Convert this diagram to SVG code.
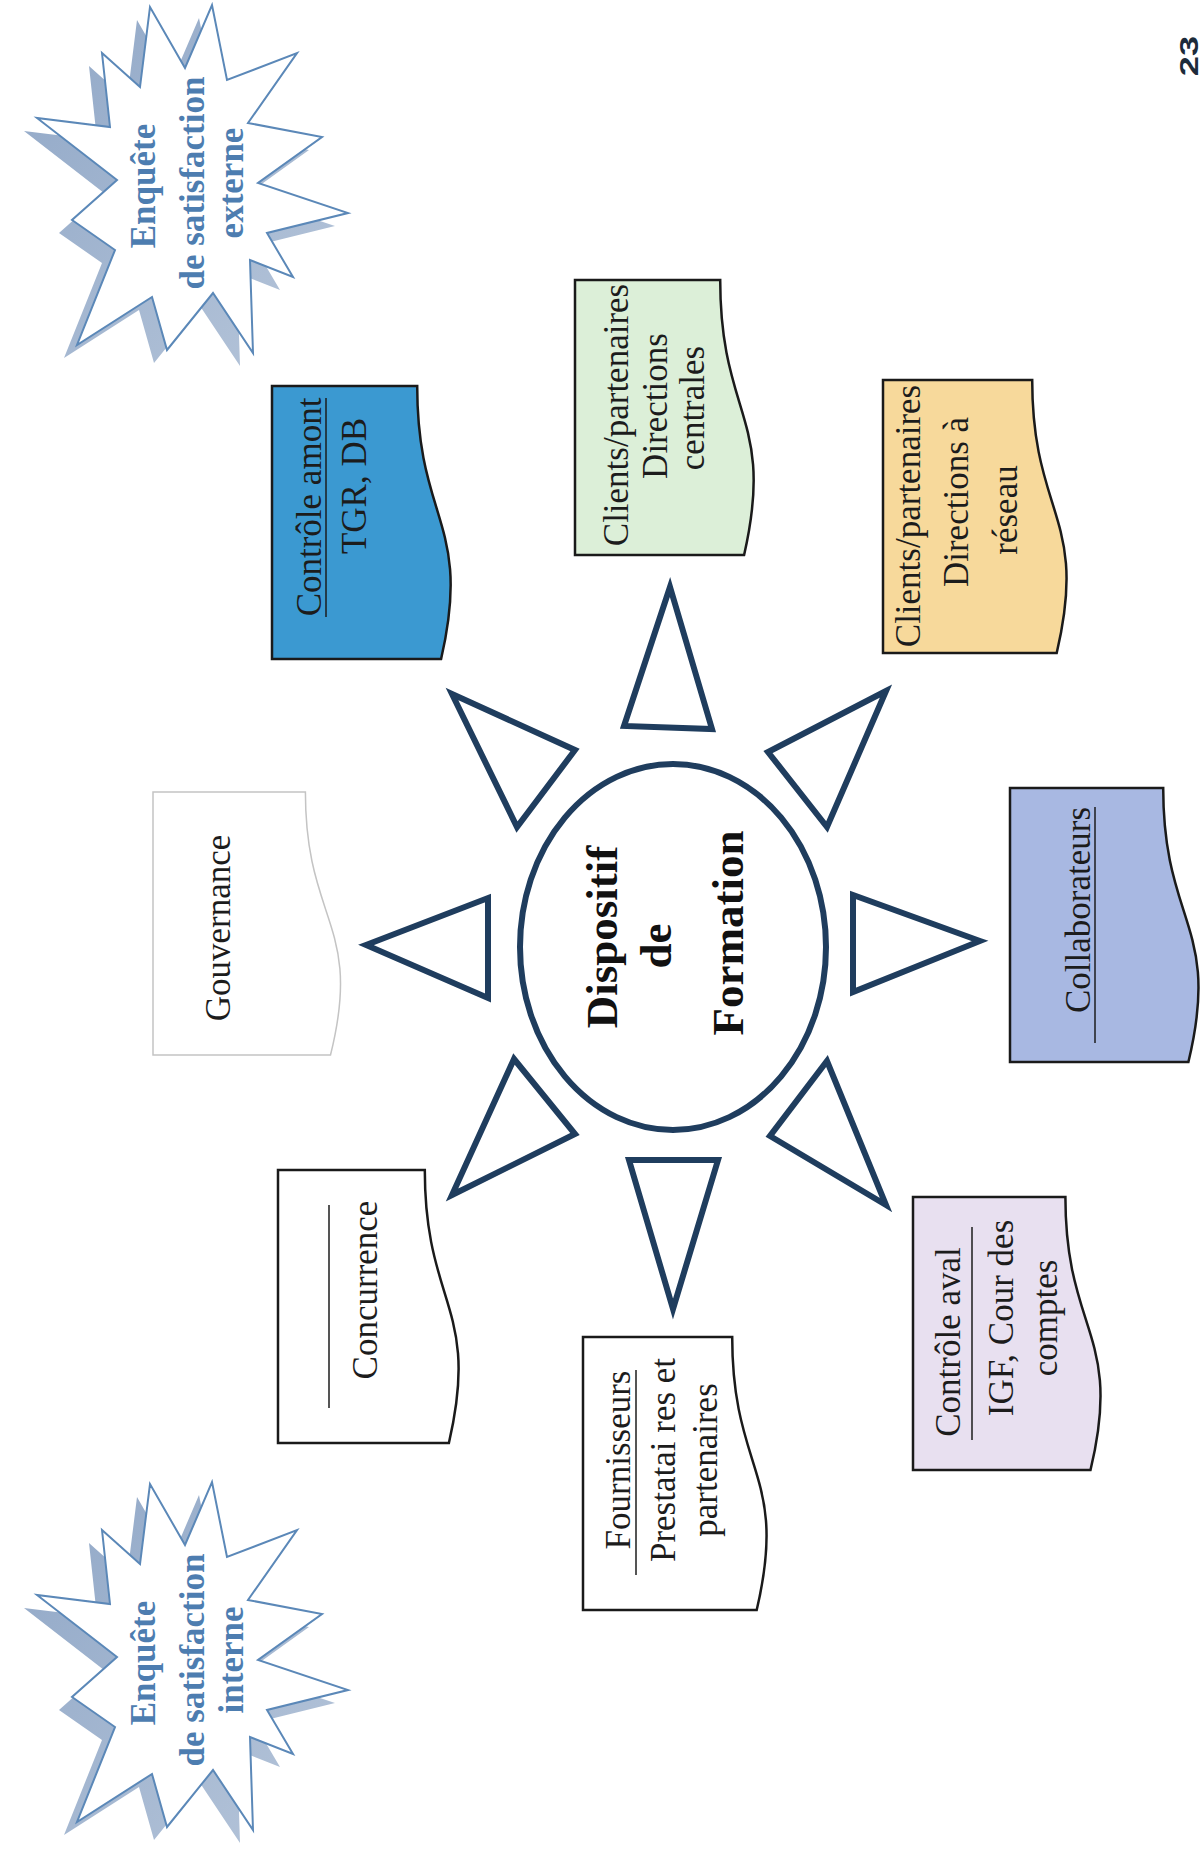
<svg xmlns="http://www.w3.org/2000/svg" xmlns:xlink="http://www.w3.org/1999/xlink" width="1201" height="1852" viewBox="0 0 1201 1852">
<style>
.doc{stroke:#1a1a1a;stroke-width:2.5}
.t{font-family:"Liberation Serif","Times New Roman",serif;font-size:35px;fill:#1c1c1c;text-anchor:middle}
.ul{stroke:#1c1c1c;stroke-width:1.5}
.ray{fill:#fff;stroke:#1f3d5e;stroke-width:6;stroke-linejoin:miter}
.core{fill:#fff;stroke:#1f3d5e;stroke-width:6}
.ct{font-family:"Liberation Serif","Times New Roman",serif;font-size:45px;font-weight:bold;fill:#111;text-anchor:middle}
.star{fill:#fff;stroke:#5b88b8;stroke-width:2;stroke-linejoin:miter}
.shadow{fill:url(#sh);opacity:.85}
.st{font-family:"Liberation Serif","Times New Roman",serif;font-weight:bold;font-size:35px;fill:#4d7db0;text-anchor:middle}
.pg{font-family:"Liberation Sans",Arial,sans-serif;font-weight:bold;font-size:25px;fill:#1d2b3a;text-anchor:middle}
</style>
<defs>
<linearGradient id="sh" x1="0" y1="0" x2="1" y2="1">
<stop offset="0" stop-color="#7d98bd"/>
<stop offset="1" stop-color="#a9bbd3"/>
</linearGradient>
<polygon id="burst" points="-88,-132 -50,-98 -40,-178 -5,-117 22,-180 37,-105 107,-132 58,-62 132,-48 68,-2 158,28 77,48 103,92 60,75 63,168 23,108 -23,165 -38,112 -113,160 -75,65 -118,35 -73,-5 -153,-67 -80,-58"/>
</defs>
<rect width="1201" height="1852" fill="#fff"/>

<g id="connectors">
<polygon class="ray" points="452,694 575,750 517,827"/>
<polygon class="ray" points="670,587 624,726 712,729"/>
<polygon class="ray" points="886,691 768,752 827,827"/>
<polygon class="ray" points="980,941 853,895 853,992"/>
<polygon class="ray" points="886,1205 770,1136 827,1061"/>
<polygon class="ray" points="673,1309 629,1160 718,1160"/>
<polygon class="ray" points="452,1195 575,1134 514,1059"/>
<polygon class="ray" points="366,945 488,898 488,998"/>
</g>

<g id="dispositif">
<ellipse class="core" cx="673" cy="947" rx="153" ry="183"/>
<text class="ct" transform="translate(617,937) rotate(-90)">Dispositif</text>
<text class="ct" transform="translate(671,946) rotate(-90)">de</text>
<text class="ct" transform="translate(743,933) rotate(-90)">Formation</text>
</g>

<g id="controle-amont">
<path class="doc" fill="#3b99d1" d="M272,659V386H417.2C417.2,522.5 472.4,522.5 441.1,659Z"/>
<text class="t" transform="translate(321,507) rotate(-90)">Contrôle amont</text>
<line class="ul" x1="326" y1="617" x2="326" y2="398"/>
<text class="t" transform="translate(366,486) rotate(-90)">TGR, DB</text>
</g>

<g id="clients-centrales">
<path class="doc" fill="#dcefd8" d="M575,555V280H720.2C720.2,417.5 775.4,417.5 744.1,555Z"/>
<text class="t" transform="translate(628,415) rotate(-90)">Clients/partenaires</text>
<text class="t" transform="translate(667,406) rotate(-90)">Directions</text>
<text class="t" transform="translate(704,408) rotate(-90)">centrales</text>
</g>

<g id="clients-reseau">
<path class="doc" fill="#f7d99b" d="M883,653V380H1032.2C1032.2,516.5 1088.9,516.5 1056.7,653Z"/>
<text class="t" transform="translate(920,516) rotate(-90)">Clients/partenaires</text>
<text class="t" transform="translate(968,502) rotate(-90)">Directions à</text>
<text class="t" transform="translate(1017,510) rotate(-90)">réseau</text>
</g>

<g id="collaborateurs">
<path class="doc" fill="#a8b8e2" d="M1010,1062V788H1163.2C1163.2,925 1221.4,925 1188.4,1062Z"/>
<text class="t" transform="translate(1090,910) rotate(-90)">Collaborateurs</text>
<line class="ul" x1="1095" y1="1043" x2="1095" y2="807"/>
</g>

<g id="controle-aval">
<path class="doc" fill="#e8e0f0" d="M913,1470V1197H1065.4C1065.4,1333.5 1123.3,1333.5 1090.5,1470Z"/>
<text class="t" transform="translate(960,1342) rotate(-90)">Contrôle aval</text>
<line class="ul" x1="972" y1="1440" x2="972" y2="1227"/>
<text class="t" transform="translate(1013,1318) rotate(-90)">IGF, Cour des</text>
<text class="t" transform="translate(1057,1318) rotate(-90)">comptes</text>
</g>

<g id="fournisseurs">
<path class="doc" fill="#fff" d="M583,1610V1337H732.2C732.2,1473.5 788.9,1473.5 756.7,1610Z"/>
<text class="t" transform="translate(630,1460) rotate(-90)">Fournisseurs</text>
<line class="ul" x1="636" y1="1575" x2="636" y2="1370"/>
<text class="t" transform="translate(675,1460) rotate(-90)">Prestatai res et</text>
<text class="t" transform="translate(717,1460) rotate(-90)">partenaires</text>
</g>

<g id="concurrence">
<path class="doc" fill="#fff" d="M278,1443V1170H424.8C424.8,1306.5 480.6,1306.5 448.9,1443Z"/>
<line class="ul" x1="329" y1="1408" x2="329" y2="1205"/>
<text class="t" transform="translate(377,1290) rotate(-90)">Concurrence</text>
</g>

<g id="gouvernance">
<path fill="#fff" stroke="#c4c4c4" stroke-width="1.5" d="M153,1055V792H305.4C305.4,923.5 363.3,923.5 330.5,1055Z"/>
<text class="t" transform="translate(230,928) rotate(-90)">Gouvernance</text>
</g>

<g id="enquete-interne">
<use xlink:href="#burst" class="shadow" transform="translate(177,1675)"/>
<use xlink:href="#burst" class="star" transform="translate(190,1662)"/>
<text class="st" transform="translate(155,1663) rotate(-90)">Enquête</text>
<text class="st" transform="translate(204,1660) rotate(-90)">de satisfaction</text>
<text class="st" transform="translate(243,1660) rotate(-90)">interne</text>
</g>

<g id="enquete-externe">
<use xlink:href="#burst" class="shadow" transform="translate(177,198)"/>
<use xlink:href="#burst" class="star" transform="translate(190,185)"/>
<text class="st" transform="translate(155,186) rotate(-90)">Enquête</text>
<text class="st" transform="translate(204,183) rotate(-90)">de satisfaction</text>
<text class="st" transform="translate(243,183) rotate(-90)">externe</text>
</g>

<g id="page-number">
<text class="pg" transform="translate(1198,56) rotate(-90) scale(1.45,1)">23</text>
</g>
</svg>
